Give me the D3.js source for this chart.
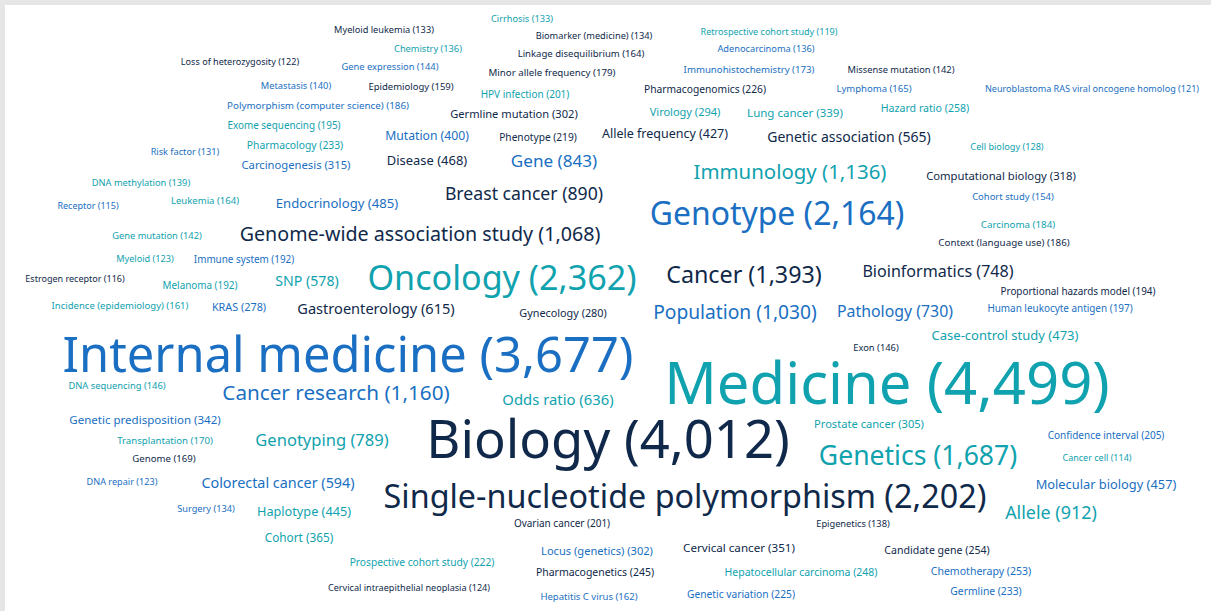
<!DOCTYPE html>
<meta charset="UTF-8">
<style>
  body { margin: 0; background: #e6e6e6; }
  svg { display: block; }
  .word { font-family: "Noto Sans", sans-serif; }
</style>
<body>
<script src="https://d3js.org/d3.v7.min.js"></script>
<script>

// topic names, ordered by publication count (colour cycles with rank)
var terms = [
  "Medicine", "Biology", "Internal medicine", "Oncology", "Single-nucleotide polymorphism",
  "Genotype", "Genetics", "Cancer", "Cancer research", "Immunology",
  "Genome-wide association study", "Population", "Allele", "Breast cancer", "Gene",
  "Genotyping", "Bioinformatics", "Pathology", "Odds ratio", "Gastroenterology",
  "Colorectal cancer", "SNP", "Genetic association", "Endocrinology", "Case-control study",
  "Disease", "Molecular biology", "Haplotype", "Allele frequency", "Mutation",
  "Cohort", "Cervical cancer", "Genetic predisposition", "Lung cancer", "Computational biology",
  "Carcinogenesis", "Prostate cancer", "Germline mutation", "Locus (genetics)", "Virology",
  "Gynecology", "KRAS", "Hazard ratio", "Candidate gene", "Chemotherapy",
  "Hepatocellular carcinoma", "Pharmacogenetics", "Germline", "Pharmacology", "Pharmacogenomics",
  "Genetic variation", "Prospective cohort study", "Phenotype", "Confidence interval", "HPV infection",
  "Ovarian cancer", "Human leukocyte antigen", "Exome sequencing", "Proportional hazards model", "Immune system",
  "Melanoma", "Context (language use)", "Polymorphism (computer science)", "Carcinoma", "Minor allele frequency",
  "Immunohistochemistry", "Transplantation", "Genome", "Lymphoma", "Leukemia",
  "Linkage disequilibrium", "Hepatitis C virus", "Incidence (epidemiology)", "Epidemiology", "Cohort study",
  "DNA sequencing", "Exon", "Gene expression", "Gene mutation", "Missense mutation",
  "Metastasis", "DNA methylation", "Epigenetics", "Adenocarcinoma", "Chemistry",
  "Biomarker (medicine)", "Surgery", "Cirrhosis", "Myeloid leukemia", "Risk factor",
  "Cell biology", "Cervical intraepithelial neoplasia", "DNA repair", "Myeloid", "Loss of heterozygosity",
  "Neuroblastoma RAS viral oncogene homolog", "Retrospective cohort study", "Estrogen receptor", "Receptor", "Cancer cell"
];

var counts = [
  4499, 4012, 3677, 2362, 2202,
  2164, 1687, 1393, 1160, 1136,
  1068, 1030, 912, 890, 843,
  789, 748, 730, 636, 615,
  594, 578, 565, 485, 473,
  468, 457, 445, 427, 400,
  365, 351, 342, 339, 318,
  315, 305, 302, 302, 294,
  280, 278, 258, 254, 253,
  248, 245, 233, 233, 226,
  225, 222, 219, 205, 201,
  201, 197, 195, 194, 192,
  192, 186, 186, 184, 179,
  173, 170, 169, 165, 164,
  164, 162, 161, 159, 154,
  146, 146, 144, 142, 142,
  140, 139, 138, 136, 136,
  134, 134, 133, 133, 131,
  128, 124, 123, 123, 122,
  121, 119, 116, 115, 114
];

// cloud layout: word centres in the cloud's own units (0..1211 across, 0..611 down)
var cloudX = [
  887, 608, 348, 502, 685,
  777, 918, 744, 336, 790,
  420, 735, 1051, 524, 554,
  322, 938, 895, 558, 376,
  278, 307, 849, 337, 1005,
  427, 1106, 304, 665, 427,
  299, 739, 145, 795, 1001,
  296, 869, 514, 597, 685,
  563, 239, 925, 937, 981,
  801, 595, 986, 295, 705,
  741, 422, 538, 1106, 525,
  562, 1060, 284, 1078, 244,
  200, 1004, 318, 1018, 552,
  749, 165, 164, 874, 205,
  581, 589, 120, 411, 1013,
  117, 876, 390, 157, 901,
  296, 141, 853, 766, 428,
  594, 206, 522, 384, 185,
  1007, 409, 122, 145, 240,
  1092, 769, 75, 88, 1097
];

var cloudY = [
  383, 439, 354, 278, 496,
  214, 455, 275, 393, 172,
  234, 312, 513, 194, 161,
  440, 271, 311, 400, 309,
  483, 281, 137, 203, 335,
  160, 484, 511, 134, 136,
  538, 548, 420, 113, 176,
  165, 424, 114, 551, 112,
  313, 307, 108, 550, 571,
  572, 572, 591, 145, 89,
  594, 562, 137, 435, 94,
  523, 308, 125, 291, 259,
  285, 242, 105, 224, 72,
  70, 441, 459, 89, 201,
  54, 597, 306, 87, 197,
  386, 348, 67, 236, 70,
  86, 183, 524, 49, 49,
  36, 509, 19, 30, 152,
  147, 588, 482, 259, 62,
  89, 32, 279, 206, 458
];

var width = 1211,
    height = 611;

var svg = d3.select("body").append("svg")
    .attr("width", width)
    .attr("height", height);

// white panel, grey strip on the top and left
svg.append("rect")
    .attr("x", 5)
    .attr("y", 5)
    .attr("width", width - 5)
    .attr("height", height - 5)
    .attr("fill", "#fff");

var x = d3.scaleLinear().domain([0, 1211]).range([0, width]);
var y = d3.scaleLinear().domain([0, 611]).range([0, height]);

var size = d3.scaleLinear()
    .domain(d3.extent(counts))
    .range([9, 58]);

var colour = d3.scaleOrdinal()
    .domain([0, 1, 2])
    .range(["#10a2ae", "#10294a", "#1a6fc2"]);

var fmt = d3.format(",");

var words = terms.map(function(t, i) {
  return { text: t, count: counts[i], x: cloudX[i], y: cloudY[i], rank: i };
});

svg.append("g")
  .selectAll("text")
  .data(words)
  .join("text")
    .attr("class", "word")
    .attr("x", function(d) { return x(d.x); })
    .attr("y", function(d) { return y(d.y); })
    .attr("dy", "0.36em")
    .attr("text-anchor", "middle")
    .attr("font-size", function(d) { return size(d.count) + "px"; })
    .attr("fill", function(d) { return colour(d.rank % 3); })
    .text(function(d) { return d.text + " (" + fmt(d.count) + ")"; });

</script>
</body>
